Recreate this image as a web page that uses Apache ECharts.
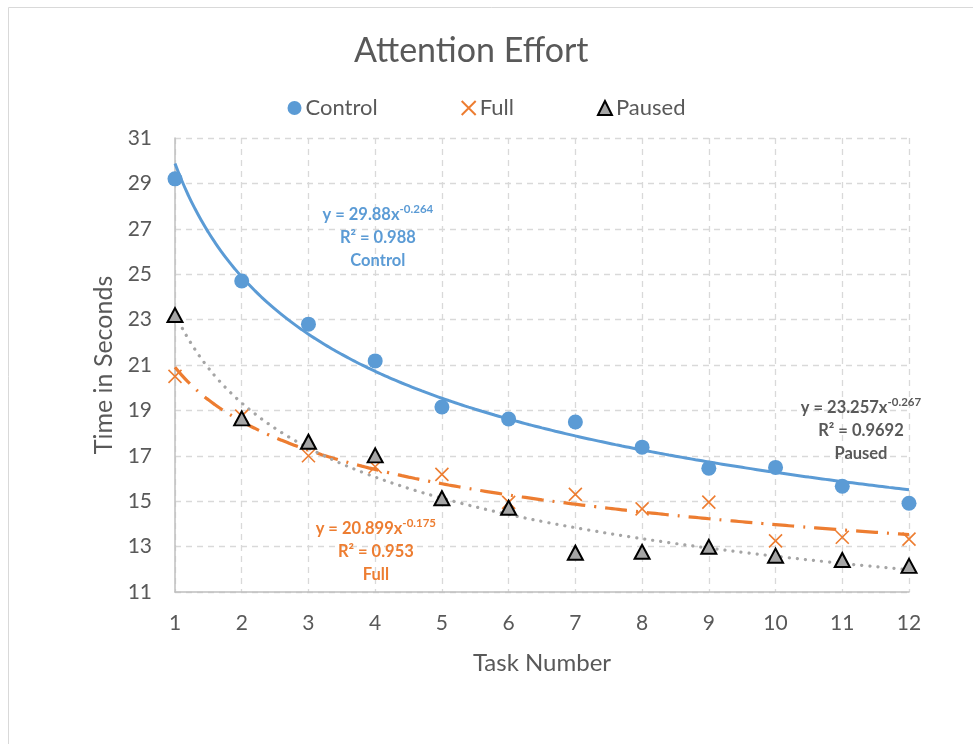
<!DOCTYPE html>
<html><head><meta charset="utf-8">
<script src="https://cdn.jsdelivr.net/npm/echarts@6/dist/echarts.min.js"></script>
<style>html,body{margin:0;padding:0;background:#fff}#c{width:973px;height:744px}</style>
</head><body><div id="c"></div>
<script>
const FONT = 'Lato, "Open Sans", sans-serif';
const tasks = [1,2,3,4,5,6,7,8,9,10,11,12];
const control = [29.2,24.7,22.8,21.18,19.15,18.62,18.49,17.38,16.45,16.49,15.66,14.91];
const full    = [20.5,18.75,17.0,16.52,16.18,14.95,15.30,14.66,14.96,13.25,13.41,13.33];
const paused  = [23.2,18.65,17.62,17.02,15.13,14.71,12.73,12.77,12.99,12.60,12.41,12.15];
// power trendline coefficients shown on the chart: y = a * x^b
const controlFit = [29.88, -0.264];
const fullFit    = [20.899, -0.175];
const pausedFit  = [23.257, -0.267];
const yTicks = [11,13,15,17,19,21,23,25,27,29,31];

function trend(fit){
  const out=[];
  for(let i=0;i<=110;i++){const x=1+i*0.1; out.push([x, fit[0]*Math.pow(x,fit[1])]);}
  return out;
}
const BLUE='#5B9BD5', ORANGE='#ED7D31', GRAY='#A5A5A5', TXT='#595959';
function eqLabel(color, a, b, r2, name){
  return {
    formatter: '{n|y = '+a+'x}{s|'+b+'}\n{n|R² = '+r2+'}\n{n|'+name+'}',
    rich:{
      n:{fontFamily:FONT,fontSize:16.5,fontWeight:'bold',color:color,lineHeight:23,align:'center'},
      s:{fontFamily:FONT,fontSize:11.5,fontWeight:'bold',color:color,lineHeight:23,verticalAlign:'top',padding:[0,0,1,0]}
    },
    align:'center', verticalAlign:'middle', show:true, position:'inside'
  };
}
function mp(coord,label){return {symbol:'circle',symbolSize:0,silent:true,data:[{coord:coord,label:label}]};}

const chart = echarts.init(document.getElementById('c'));
chart.setOption({
  animation:false,
  textStyle:{fontFamily:FONT},
  title:{text:'Attention Effort',left:349,top:29,textStyle:{fontFamily:FONT,fontSize:34,fontWeight:'normal',color:TXT}},
  legend:{top:92,left:'center',itemGap:83,itemWidth:14,itemHeight:14,data:['Control','Full','Paused'],
    textStyle:{fontFamily:FONT,fontSize:22,color:TXT,padding:[0,0,0,-1]}},
  graphic:[{type:'rect',shape:{x:8.5,y:7.5,width:1000,height:800},style:{fill:'none',stroke:'#D9D9D9',lineWidth:1},z:-10}],
  grid:{left:175,top:138,right:64,bottom:152},
  xAxis:{type:'value',min:1,max:12,interval:1,
    name:'Task Number',nameLocation:'middle',nameGap:59,nameTextStyle:{fontFamily:FONT,fontSize:24,color:TXT},
    axisLine:{lineStyle:{color:'#BFBFBF',width:1.5}},axisTick:{show:false},
    axisLabel:{margin:21,fontSize:21,color:TXT,fontFamily:FONT},
    splitLine:{show:true,lineStyle:{color:'#D9D9D9',type:[6,5],width:1.3}}},
  yAxis:{type:'value',min:11,max:31,interval:2,
    name:'Time in Seconds',nameLocation:'middle',nameGap:58,nameTextStyle:{fontFamily:FONT,fontSize:25,color:TXT},
    axisLine:{show:true,lineStyle:{color:'#BFBFBF',width:1.5}},axisTick:{show:false},
    axisLabel:{margin:23,fontSize:21,color:TXT,fontFamily:FONT,formatter:v=>yTicks.includes(v)?String(v):''},
    splitLine:{show:true,lineStyle:{color:'#D9D9D9',type:[6,5],width:1.3}}},
  series:[
    {name:'ControlTrend',type:'line',data:trend(controlFit),showSymbol:false,smooth:true,z:2,
     lineStyle:{color:BLUE,width:3},markPoint:mp([4.04,26.6],eqLabel(BLUE,'29.88','-0.264','0.988','Control'))},
    {name:'FullTrend',type:'line',data:trend(fullFit),showSymbol:false,smooth:true,z:2,
     lineStyle:{color:ORANGE,width:3.2,type:[22,9,2,9]},markPoint:mp([4.01,12.76],eqLabel(ORANGE,'20.899','-0.175','0.953','Full'))},
    {name:'PausedTrend',type:'line',data:trend(pausedFit),showSymbol:false,smooth:true,z:2,
     lineStyle:{color:GRAY,width:3.2,type:[0.1,8],cap:'round'},markPoint:mp([11.28,18.09],eqLabel(TXT,'23.257','-0.267','0.9692','Paused'))},
    {name:'Control',type:'scatter',data:tasks.map((t,i)=>[t,control[i]]),symbol:'circle',symbolSize:15,z:5,
     itemStyle:{color:BLUE,opacity:1}},
    {name:'Full',type:'scatter',data:tasks.map((t,i)=>[t,full[i]]),symbol:'path://M0,0L10,10M10,0L0,10',symbolSize:13,z:6,
     itemStyle:{color:'rgba(0,0,0,0)',borderColor:ORANGE,borderWidth:1.6,opacity:1}},
    {name:'Paused',type:'scatter',data:tasks.map((t,i)=>[t,paused[i]]),symbol:'triangle',symbolSize:[15,14],z:7,
     itemStyle:{color:GRAY,borderColor:'#000',borderWidth:2,opacity:1}}
  ]
});
</script></body></html>
